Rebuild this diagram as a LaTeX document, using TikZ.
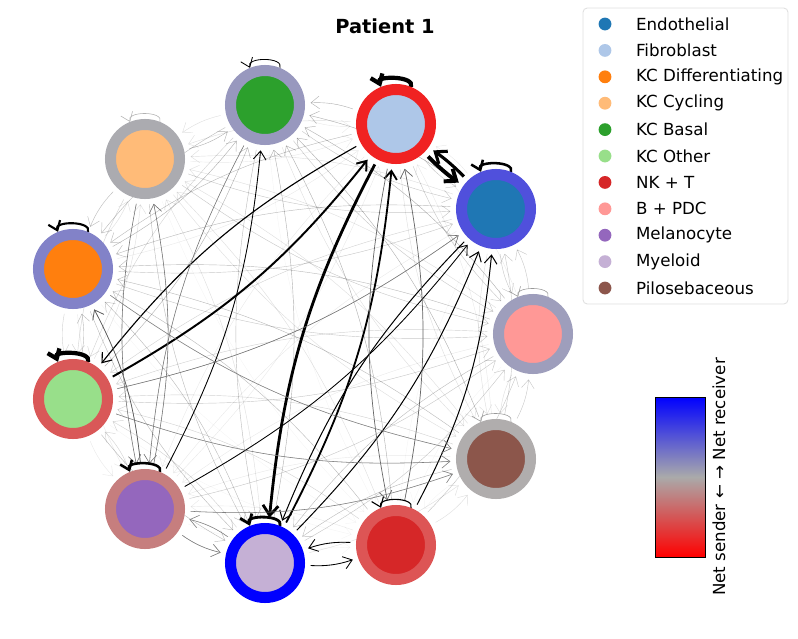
\documentclass[tikz,border=0pt]{standalone}
\usepackage{fontspec}
\setmainfont{DejaVu Sans}
\usepackage{xcolor}
\usetikzlibrary{arrows.meta,positioning,backgrounds}

% cell type colours
\definecolor{cEndo}{HTML}{1F77B4}
\definecolor{cFib}{HTML}{AEC7E8}
\definecolor{cKCD}{HTML}{FF7F0E}
\definecolor{cKCC}{HTML}{FFBB78}
\definecolor{cKCB}{HTML}{2CA02C}
\definecolor{cKCO}{HTML}{98DF8A}
\definecolor{cNKT}{HTML}{D62728}
\definecolor{cBPDC}{HTML}{FF9896}
\definecolor{cMel}{HTML}{9467BD}
\definecolor{cMye}{HTML}{C5B0D5}
\definecolor{cPilo}{HTML}{8C564B}
% ring colours (sender / receiver balance)
\definecolor{rEndo}{HTML}{5050DC}
\definecolor{rFib}{HTML}{F02222}
\definecolor{rKCD}{HTML}{8282C8}
\definecolor{rKCC}{HTML}{ABABB0}
\definecolor{rKCB}{HTML}{9898BE}
\definecolor{rKCO}{HTML}{D95858}
\definecolor{rNKT}{HTML}{DD5555}
\definecolor{rBPDC}{HTML}{9E9EBC}
\definecolor{rMel}{HTML}{C67E7E}
\definecolor{rMye}{HTML}{0000FF}
\definecolor{rPilo}{HTML}{B0ADAD}
\definecolor{cbGray}{HTML}{AAAAAA}

\begin{document}
\begin{tikzpicture}[x=0.025cm,y=-0.025cm,
>={Straight Barb[length=6pt,width=9pt]},
cell/.style={circle, minimum size=1.725cm, inner sep=0pt, line width=0.275cm},
flow/.style={->, bend right=11, shorten >=4pt, shorten <=4pt},
faint/.style={flow, line width=0.3pt, draw=black},
heavy/.style={flow, -{Straight Barb[length=7pt,width=11pt]}},
selfloop/.style={->, out=68, in=112, distance=0.3cm},
legdot/.style={circle, inner sep=0pt, minimum size=0.32cm},
legtext/.style={anchor=west, inner sep=0pt, font=\fontsize{11.85}{14}\selectfont}]
\useasboundingbox (0,0) rectangle (798,639);

\node[font=\bfseries\fontsize{13.8}{16}\selectfont] (title) at (385,26) {Patient 1};

% cells on the ring
\node[cell, fill=cEndo, draw=rEndo] (endo) at (496,209) {};
\node[cell, fill=cFib, draw=rFib] (fib) at (396,124) {};
\node[cell, fill=cKCB, draw=rKCB] (kcb) at (265,105) {};
\node[cell, fill=cKCC, draw=rKCC] (kcc) at (145,159) {};
\node[cell, fill=cKCD, draw=rKCD] (kcd) at (73,269) {};
\node[cell, fill=cKCO, draw=rKCO] (kco) at (73,399) {};
\node[cell, fill=cMel, draw=rMel] (mel) at (145,509) {};
\node[cell, fill=cMye, draw=rMye] (mye) at (265,563) {};
\node[cell, fill=cNKT, draw=rNKT] (nkt) at (396,545) {};
\node[cell, fill=cPilo, draw=rPilo] (pilo) at (496,459) {};
\node[cell, fill=cBPDC, draw=rBPDC] (bpdc) at (533,334) {};

\begin{scope}[on background layer]
% weak links between every pair
\foreach \a [count=\i] in {endo,fib,kcd,kcc,kcb,kco,nkt,bpdc,mel,mye,pilo}
  \foreach \b [count=\j] in {endo,fib,kcd,kcc,kcb,kco,nkt,bpdc,mel,mye,pilo}
  {
    \ifnum\i=\j\else
      \pgfmathsetmacro\op{0.04+0.045*mod(\i*7+\j*4,7)}
      \draw[faint, draw opacity=\op] (\a) to (\b);
    \fi
  }

% stronger links
\draw[heavy, line width=2.8pt, bend right=5] (fib) to (endo);
\draw[heavy, line width=2.2pt, bend right=5] (endo) to (fib);
\draw[heavy, line width=2pt] (fib) to (mye);
\draw[flow, line width=1.3pt] (mye) to (fib);
\draw[flow, line width=1.4pt] (kco) to (fib);
\draw[flow, line width=0.8pt] (fib) to (kco);
\draw[flow, line width=0.7pt] (mye) to (endo);
\draw[flow, line width=0.7pt] (endo) to (mye);
\draw[flow, line width=0.7pt] (nkt) to (endo);
\draw[flow, line width=0.6pt] (mel) to (endo);
\draw[flow, line width=0.6pt] (mye) to (nkt);
\draw[flow, line width=0.6pt] (nkt) to (mye);
\draw[flow, line width=0.6pt] (mel) to (kcb);
\draw[flow, line width=0.5pt, black!60] (nkt) to (fib);
\draw[flow, line width=0.5pt, black!60] (fib) to (nkt);
\draw[flow, line width=0.5pt, black!65] (mel) to (kcd);
\draw[flow, line width=0.4pt, black!55] (kcb) to (mel);
\draw[flow, line width=0.4pt, black!55] (kcc) to (mel);
\draw[flow, line width=0.4pt, black!55] (mel) to (kcc);
\draw[flow, line width=0.4pt, black!55] (kco) to (endo);
\draw[flow, line width=0.4pt, black!50] (kco) to (pilo);
\draw[flow, line width=0.4pt, black!50] (kcd) to (pilo);
\draw[flow, line width=0.4pt, black!50] (mel) to (pilo);
\draw[flow, line width=0.4pt, black!50] (mel) to (mye);
\draw[flow, line width=0.4pt, black!50] (mye) to (mel);

% self loops
\draw[selfloop, line width=3pt] (fib) to (fib);
\draw[selfloop, line width=3pt] (kco) to (kco);
\draw[selfloop, line width=1.8pt] (endo) to (endo);
\draw[selfloop, line width=1.8pt] (mel) to (mel);
\draw[selfloop, line width=2pt] (mye) to (mye);
\draw[selfloop, line width=1.5pt] (kcd) to (kcd);
\draw[selfloop, line width=0.8pt] (nkt) to (nkt);
\draw[selfloop, line width=0.6pt] (kcb) to (kcb);
\draw[selfloop, line width=0.4pt, black!30] (kcc) to (kcc);
\draw[selfloop, line width=0.4pt, black!40] (bpdc) to (bpdc);
\draw[selfloop, line width=0.4pt, black!40] (pilo) to (pilo);
\end{scope}

% legend
\draw[rounded corners=3pt, draw=gray!25, fill=white, line width=0.6pt] (583,8) rectangle (788,304);
\foreach \c/\t [count=\k] in {cEndo/Endothelial, cFib/Fibroblast, cKCD/KC Differentiating,
  cKCC/KC Cycling, cKCB/KC Basal, cKCO/KC Other, cNKT/NK + T, cBPDC/B + PDC,
  cMel/Melanocyte, cMye/Myeloid, cPilo/Pilosebaceous}
{
  \node[legdot, fill=\c] (dot\k) at (605,{24+26.4*(\k-1)}) {};
  \node[legtext, right=0.77cm of dot\k.center] (leg\k) {\t};
}

% colour bar
\shade[top color=blue, bottom color=red, middle color=cbGray] (655,397) rectangle (705,557);
\draw[line width=0.6pt] (655,397) rectangle (705,557);
\node[rotate=90, font=\fontsize{11.85}{14}\selectfont] (cblabel) at (719,477) {Net sender ← → Net receiver};
\end{tikzpicture}
\end{document}
